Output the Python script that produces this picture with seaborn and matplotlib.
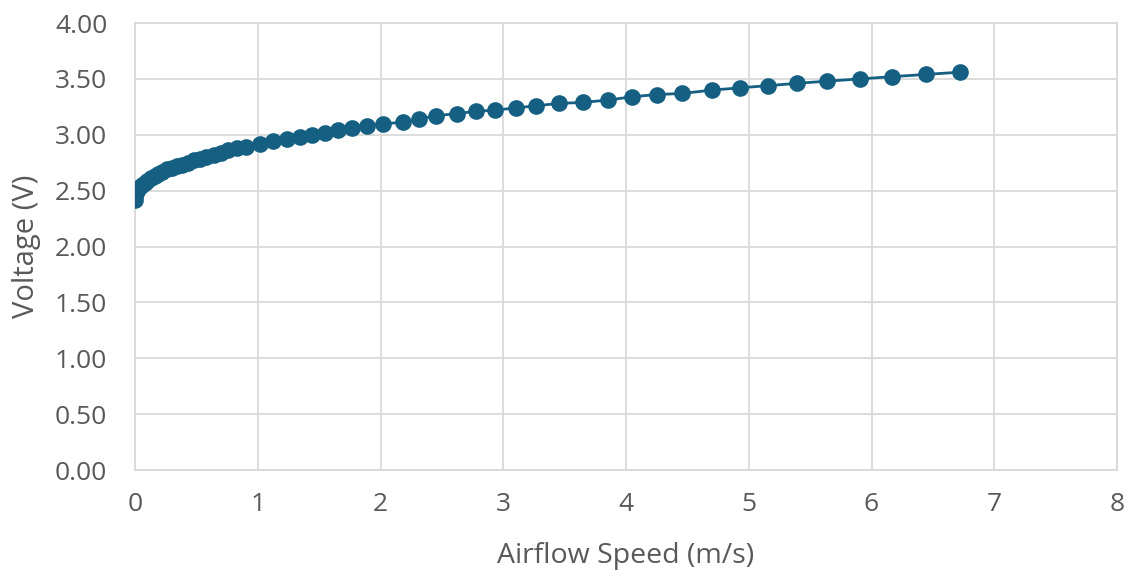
import matplotlib
matplotlib.use("Agg")
import matplotlib.pyplot as plt
import seaborn as sns
import pandas as pd

# Hot-wire sensor calibration: output voltage against airflow speed
airflow_speed = [
    0.00, 0.00, 0.01, 0.02, 0.04, 0.06, 0.08, 0.10, 0.13, 0.16, 0.19, 0.22,
    0.26, 0.30, 0.34, 0.38, 0.43, 0.48, 0.53, 0.58, 0.64, 0.70, 0.76, 0.83,
    0.90, 1.02, 1.12, 1.24, 1.34, 1.44, 1.55, 1.65, 1.77, 1.89, 2.02, 2.18,
    2.31, 2.45, 2.62, 2.78, 2.93, 3.10, 3.27, 3.45, 3.65, 3.85, 4.05, 4.25,
    4.46, 4.70, 4.93, 5.16, 5.39, 5.64, 5.91, 6.17, 6.44, 6.72,
]
voltage = [
    2.42, 2.45, 2.48, 2.50, 2.53, 2.55, 2.57, 2.59, 2.61, 2.63, 2.65, 2.67,
    2.69, 2.70, 2.72, 2.73, 2.75, 2.77, 2.78, 2.80, 2.82, 2.84, 2.86, 2.88,
    2.89, 2.92, 2.94, 2.96, 2.98, 3.00, 3.02, 3.04, 3.06, 3.08, 3.10, 3.11,
    3.14, 3.17, 3.19, 3.21, 3.22, 3.24, 3.26, 3.28, 3.29, 3.31, 3.34, 3.36,
    3.37, 3.40, 3.42, 3.44, 3.46, 3.48, 3.50, 3.52, 3.54, 3.56,
]
x_ticks = [0, 1, 2, 3, 4, 5, 6, 7, 8]
y_ticks = [0.0, 0.5, 1.0, 1.5, 2.0, 2.5, 3.0, 3.5, 4.0]

df = pd.DataFrame({"speed": airflow_speed, "voltage": voltage})

sns.set_theme(style="white")
plt.rcParams["font.family"] = ["Open Sans", "DejaVu Sans"]

series_color = "#156082"
grid_color = "#d9d9d9"
text_color = "#595959"

fig = plt.figure(figsize=(11.30, 5.77), dpi=100)
ax = fig.add_axes([0.1195, 0.1854, 0.869, 0.7747])

sns.lineplot(
    data=df, x="speed", y="voltage", ax=ax, sort=False, estimator=None,
    color=series_color, linewidth=2.0, marker="o", markersize=12,
    markeredgewidth=0, markerfacecolor=series_color, zorder=3,
)

ax.set_xlim(0, 8)
ax.set_ylim(0, 4)
ax.set_xticks(x_ticks)
ax.set_yticks(y_ticks)
ax.set_xticklabels([str(t) for t in x_ticks])
ax.set_yticklabels([f"{t:.2f}" for t in y_ticks])

ax.grid(True, color=grid_color, linewidth=1.3)
ax.set_axisbelow(True)
for spine in ax.spines.values():
    spine.set_color(grid_color)
    spine.set_linewidth(1.3)

ax.tick_params(axis="both", length=0, labelsize=19, labelcolor=text_color)
ax.tick_params(axis="y", pad=20)
ax.tick_params(axis="x", pad=16)

ax.set_xlabel("Airflow Speed (m/s)", fontsize=20.5, color=text_color, labelpad=18)
ax.set_ylabel("Voltage (V)", fontsize=21, color=text_color, labelpad=10)

fig.savefig("out.png", dpi=100, facecolor="white")
